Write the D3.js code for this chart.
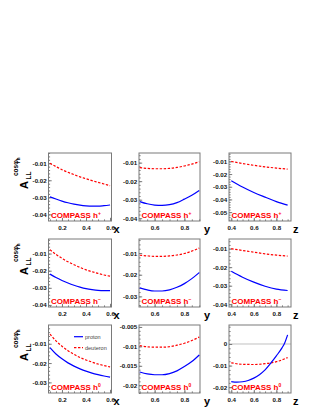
<!DOCTYPE html>
<html><head><meta charset="utf-8">
<script src="https://cdn.jsdelivr.net/npm/d3@7"></script>
<style>
html,body{margin:0;padding:0;background:#fff;}
svg{display:block;font-family:"Liberation Sans",Arial,Helvetica,sans-serif;}
</style></head>
<body>
<svg id="chart" width="323" height="418"></svg>
<script>
// ---------------- data ----------------
const xVals = [0.10,0.15,0.20,0.25,0.30,0.35,0.40,0.45,0.50,0.55,0.60];
const yVals = [0.50,0.55,0.60,0.65,0.70,0.75,0.80,0.85,0.90];
const zVals = [0.4,0.5,0.6,0.7,0.8,0.9];
const zValsFine = [0.40,0.45,0.50,0.55,0.60,0.65,0.70,0.75,0.80,0.85,0.875,0.90];

// h+
const hpXProton   = [-0.0297,-0.0310,-0.0322,-0.0332,-0.0340,-0.0346,-0.0350,-0.0352,-0.0352,-0.0349,-0.0345];
const hpXDeuteron = [-0.0100,-0.0120,-0.0138,-0.0153,-0.0167,-0.0180,-0.0191,-0.0202,-0.0212,-0.0222,-0.0232];
const hpYProton   = [-0.0310,-0.0322,-0.0329,-0.0331,-0.0327,-0.0316,-0.0297,-0.0276,-0.0250];
const hpYDeuteron = [-0.0127,-0.0131,-0.0133,-0.0133,-0.0131,-0.0126,-0.0118,-0.0108,-0.0095];
const hpZProton   = [-0.0252,-0.0302,-0.0345,-0.0382,-0.0417,-0.0445];
const hpZDeuteron = [-0.0100,-0.0117,-0.0131,-0.0143,-0.0153,-0.0161];
// h-
const hmXProton   = [-0.0220,-0.0240,-0.0257,-0.0272,-0.0285,-0.0296,-0.0305,-0.0311,-0.0315,-0.0316,-0.0316];
const hmXDeuteron = [-0.0077,-0.0105,-0.0128,-0.0148,-0.0165,-0.0181,-0.0195,-0.0206,-0.0216,-0.0225,-0.0232];
const hmYProton   = [-0.0261,-0.0270,-0.0275,-0.0275,-0.0270,-0.0258,-0.0241,-0.0218,-0.0190];
const hmYDeuteron = [-0.0110,-0.0113,-0.0115,-0.0115,-0.0113,-0.0109,-0.0102,-0.0091,-0.0077];
const hmZProton   = [-0.0222,-0.0254,-0.0281,-0.0303,-0.0319,-0.0326];
const hmZDeuteron = [-0.0100,-0.0110,-0.0119,-0.0128,-0.0135,-0.0140];
// h0
const h0XProton   = [-0.0120,-0.0153,-0.0178,-0.0199,-0.0216,-0.0230,-0.0242,-0.0252,-0.0260,-0.0267,-0.0273];
const h0XDeuteron = [-0.0050,-0.0085,-0.0113,-0.0136,-0.0155,-0.0171,-0.0184,-0.0195,-0.0205,-0.0213,-0.0220];
const h0YProton   = [-0.0166,-0.0171,-0.0173,-0.0173,-0.0170,-0.0163,-0.0152,-0.0139,-0.0122];
const h0YDeuteron = [-0.0098,-0.0101,-0.0102,-0.0102,-0.0101,-0.0097,-0.0092,-0.0085,-0.0076];
const h0ZProton   = [-0.0174,-0.0177,-0.0175,-0.0169,-0.0158,-0.0142,-0.0120,-0.0089,-0.0055,-0.0018,0.0006,0.0042];
const h0ZDeuteron = [-0.0087,-0.0094,-0.0095,-0.0091,-0.0082,-0.0063];

// axis ranges & tick labels
const xRanges = [[0.088,0.612],[0.495,0.905],[0.38,0.93]];
const xTickVals = [[0.2,0.4,0.6],[0.6,0.8],[0.4,0.6,0.8]];
const xMinorStep = [0.05,0.05,0.05];
const xTitles = ["x","y","z"];
const yRanges = [
  [-0.0439,-0.0040],[-0.0415,-0.0048],[-0.0570,-0.0034],
  [-0.0412,-0.0015],[-0.0349,-0.0035],[-0.0415,-0.0048],
  [-0.0355,-0.0003],[-0.0220,-0.0045],[-0.0227,0.0088]];
const yTickVals = [
  [-0.01,-0.02,-0.03,-0.04],[-0.01,-0.02,-0.03,-0.04],[-0.01,-0.02,-0.03,-0.04,-0.05],
  [-0.01,-0.02,-0.03,-0.04],[-0.01,-0.02,-0.03],[-0.01,-0.02,-0.03,-0.04],
  [-0.01,-0.02,-0.03],[-0.005,-0.01,-0.015,-0.02],[0,-0.01,-0.02]];
const yTickLabels = [
  ["-0.01","-0.02","-0.03","-0.04"],["-0.01","-0.02","-0.03","-0.04"],["-0.01","-0.02","-0.03","-0.04","-0.05"],
  ["-0.01","-0.02","-0.03","-0.04"],["-0.01","-0.02","-0.03"],["-0.01","-0.02","-0.03","-0.04"],
  ["-0.01","-0.02","-0.03"],["-0.005","-0.01","-0.015","-0.02"],["0","-0.01","-0.02"]];
const yMinorStep = [0.002,0.002,0.002, 0.002,0.002,0.002, 0.002,0.001,0.002];
const hadronSup = ["+","\u2212","0"];
const seriesNames = ["proton","deuteron"];

const panelData = [
  [xVals,hpXProton,hpXDeuteron,xVals],[yVals,hpYProton,hpYDeuteron,yVals],[zVals,hpZProton,hpZDeuteron,zVals],
  [xVals,hmXProton,hmXDeuteron,xVals],[yVals,hmYProton,hmYDeuteron,yVals],[zVals,hmZProton,hmZDeuteron,zVals],
  [xVals,h0XProton,h0XDeuteron,xVals],[yVals,h0YProton,h0YDeuteron,yVals],[zValsFine,h0ZProton,h0ZDeuteron,zVals]];

// ---------------- layout ----------------
const colLeft = [48.5,139,229], colRight = [111.5,200,291];
const rowTop = [153,239,325], rowBottom = [221,307,393];
const BLUE = "#0000ff", RED = "#ff0000";
const FRAME = "#7a7a7a", TXT = "#111";

const svg = d3.select("#chart");

function minorTicks(dom, step){
  const lo = Math.min(dom[0],dom[1]), hi = Math.max(dom[0],dom[1]);
  const out = [];
  for (let k = Math.ceil(lo/step - 1e-9); k*step <= hi + 1e-12; k++) out.push(+(k*step).toFixed(6));
  return out;
}

for (let r = 0; r < 3; r++) {
  for (let c = 0; c < 3; c++) {
    const i = r*3 + c;
    const L = colLeft[c], R = colRight[c], T = rowTop[r], B = rowBottom[r];
    const xs = d3.scaleLinear().domain(xRanges[c]).range([L,R]);
    const ys = d3.scaleLinear().domain(yRanges[i]).range([B,T]);
    const g = svg.append("g");

    const cid = "clip"+i;
    svg.append("clipPath").attr("id",cid).append("rect")
      .attr("x",L).attr("y",T).attr("width",R-L).attr("height",B-T);

    if (yRanges[i][0] < 0 && yRanges[i][1] > 0) {
      g.append("line").attr("x1",L).attr("x2",R).attr("y1",ys(0)).attr("y2",ys(0))
        .attr("stroke","#c0c0c0").attr("stroke-width",1);
    }

    const ymAxis = d3.axisLeft(ys).tickValues(minorTicks(yRanges[i],yMinorStep[i])).tickSize(-1.6).tickFormat("");
    const ymG = g.append("g").attr("transform",`translate(${L},0)`).call(ymAxis);
    const xmAxis = d3.axisBottom(xs).tickValues(minorTicks(xRanges[c],xMinorStep[c])).tickSize(-1.6).tickFormat("");
    const xmG = g.append("g").attr("transform",`translate(0,${B})`).call(xmAxis);
    [ymG,xmG].forEach(a=>{a.select(".domain").remove(); a.selectAll("line").attr("stroke",FRAME);});

    const yAxis = d3.axisLeft(ys).tickValues(yTickVals[i]).tickSize(-3.2).tickPadding(1.8)
      .tickFormat((d,k)=>yTickLabels[i][k]);
    const yG = g.append("g").attr("transform",`translate(${L},0)`).call(yAxis);
    const xAxis = d3.axisBottom(xs).tickValues(xTickVals[c]).tickSize(-3.2).tickPadding(4.5)
      .tickFormat(d3.format(".1f"));
    const xG = g.append("g").attr("transform",`translate(0,${B})`).call(xAxis);
    [yG,xG].forEach(a=>{
      a.select(".domain").remove();
      a.selectAll("line").attr("stroke",FRAME);
      a.selectAll("text").attr("fill",TXT).style("font-size","6.2px").style("font-weight","bold");
    });

    g.append("rect").attr("x",L).attr("y",T).attr("width",R-L).attr("height",B-T)
      .attr("fill","none").attr("stroke",FRAME).attr("stroke-width",1);

    const [xsArr, pArr, dArr, xdArr] = panelData[i];
    const line = d3.line().x(d=>xs(d[0])).y(d=>ys(d[1])).curve(d3.curveMonotoneX);
    const cg = g.append("g").attr("clip-path",`url(#${cid})`);
    cg.append("path").attr("d",line(xdArr.map((x,k)=>[x,dArr[k]])))
      .attr("fill","none").attr("stroke",RED).attr("stroke-width",1.2).attr("stroke-dasharray","2.4,1.6");
    cg.append("path").attr("d",line(xsArr.map((x,k)=>[x,pArr[k]])))
      .attr("fill","none").attr("stroke",BLUE).attr("stroke-width",1.2);

    const lab = g.append("text").attr("x",L+2.5).attr("y",B-3.5)
      .attr("fill",RED).style("font-size","8px").style("font-weight","bold");
    lab.append("tspan").text("COMPASS h");
    lab.append("tspan").attr("dy",-3).style("font-size","5px").text(hadronSup[r]);

    g.append("text").attr("x",R+(c===1?4:2)).attr("y",B+11.5)
      .attr("fill","#000").style("font-size","11px").style("font-weight","bold").text(xTitles[c]);

    if (c === 0) {
      const tg = g.append("g").attr("transform",`translate(28,${T+36}) rotate(-90)`);
      tg.append("text").attr("x",0).attr("y",0).attr("fill","#000")
        .style("font-size","11px").style("font-weight","bold").text("A");
      tg.append("text").attr("x",9.5).attr("y",3).attr("fill","#000")
        .style("font-size","6.5px").style("font-weight","bold").text("LL");
      const sup = tg.append("text").attr("x",13).attr("y",-10).attr("fill","#000")
        .style("font-size","6.5px").style("font-weight","bold");
      sup.append("tspan").text("cos\u03c6");
      sup.append("tspan").attr("dy",1.5).style("font-size","4.5px").text("h");
    }

    if (i === 6) {
      const lx = L+25.5, ly = T+11.7;
      g.append("line").attr("x1",lx).attr("x2",lx+9).attr("y1",ly).attr("y2",ly)
        .attr("stroke",BLUE).attr("stroke-width",1.2);
      g.append("line").attr("x1",lx).attr("x2",lx+9).attr("y1",ly+11).attr("y2",ly+11)
        .attr("stroke",RED).attr("stroke-width",1.2).attr("stroke-dasharray","2.4,1.6");
      g.append("text").attr("x",lx+11).attr("y",ly+2).attr("fill","#444")
        .style("font-size","5.5px").text(seriesNames[0]);
      g.append("text").attr("x",lx+11).attr("y",ly+13).attr("fill","#444")
        .style("font-size","5.5px").text(seriesNames[1]);
    }
  }
}
</script>
</body></html>
